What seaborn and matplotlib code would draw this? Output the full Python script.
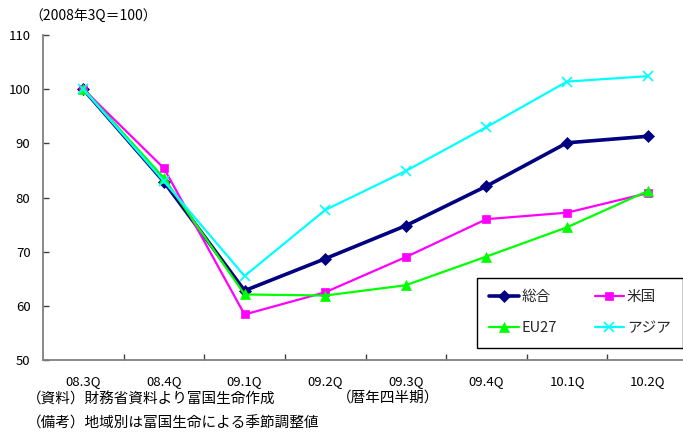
import matplotlib
matplotlib.use("Agg")
import matplotlib.pyplot as plt
import seaborn as sns
import pandas as pd

# Quarterly export volume index by destination (2008 Q3 = 100)
quarters = ["08.3Q", "08.4Q", "09.1Q", "09.2Q", "09.3Q", "09.4Q", "10.1Q", "10.2Q"]
total = [100.0, 82.9, 62.8, 68.7, 74.8, 82.1, 90.1, 91.3]
usa = [100.0, 85.4, 58.4, 62.5, 69.0, 76.0, 77.2, 80.8]
eu27 = [100.0, 83.6, 62.1, 61.9, 63.8, 69.1, 74.5, 81.2]
asia = [100.0, 83.0, 65.5, 77.7, 84.9, 93.0, 101.4, 102.4]

series_names = ["総合", "米国", "EU27", "アジア"]
series_values = [total, usa, eu27, asia]
colors = ["#000080", "#FF00FF", "#00FF00", "#00FFFF"]
markers = ["D", "s", "^", "x"]
marker_sizes = [6, 6, 6.5, 7]
line_widths = [2.6, 1.6, 1.6, 1.6]

y_ticks = [50, 60, 70, 80, 90, 100, 110]

sns.set_theme(style="white")
plt.rcParams["font.family"] = ["Noto Sans CJK JP", "DejaVu Sans"]

W, H = 683, 432
fig = plt.figure(figsize=(W / 100, H / 100), dpi=100)
ax = fig.add_axes([43 / W, (H - 360) / H, (688 - 43) / W, (360 - 35) / H])

df = pd.DataFrame({"quarter": quarters})
for name, vals, c, m, ms, lw in zip(series_names, series_values, colors,
                                    markers, marker_sizes, line_widths):
    df[name] = vals
    sns.lineplot(data=df, x="quarter", y=name, ax=ax, color=c, marker=m,
                 markersize=ms, linewidth=lw, markeredgecolor=c,
                 markeredgewidth=1.2 if m == "x" else 0.5,
                 label=name, sort=False)

ax.set_xlim(-0.5, len(quarters) - 0.5)
ax.set_ylim(50, 110)
ax.set_yticks(y_ticks)
ax.set_yticklabels([str(v) for v in y_ticks])
ax.set_xticks(range(len(quarters)))
ax.set_xticklabels(quarters)
ax.set_xticks([i + 0.5 for i in range(len(quarters) - 1)], minor=True)
ax.set_xlabel("")
ax.set_ylabel("")

for side in ["top", "right"]:
    ax.spines[side].set_visible(False)
for side in ["left", "bottom"]:
    ax.spines[side].set_color("#808080")
    ax.spines[side].set_linewidth(1.3)

ax.tick_params(axis="y", which="major", direction="in", length=4.5, width=1,
               color="#404040", labelsize=9.5, pad=9, left=True)
ax.tick_params(axis="x", which="major", length=0, labelsize=9.5, pad=11)
ax.tick_params(axis="x", which="minor", direction="in", length=4, width=1,
               color="#404040", bottom=True)
for lab in ax.get_xticklabels() + ax.get_yticklabels():
    lab.set_color("black")

# Legend: two columns, boxed, square corners
handles, labels = ax.get_legend_handles_labels()
order = [0, 2, 1, 3]
leg = ax.legend([handles[i] for i in order], [labels[i] for i in order],
                ncol=2, loc="upper left",
                bbox_to_anchor=(477 / W, (H - 278) / H),
                bbox_transform=fig.transFigure,
                frameon=True, fancybox=False, shadow=False, framealpha=1,
                edgecolor="black", prop={"size": 10.5}, numpoints=1,
                handlelength=2.0, handletextpad=0.2, columnspacing=2.6,
                labelspacing=1.15, borderpad=0.85, borderaxespad=0)
leg.get_frame().set_linewidth(1.0)

fig.text(29 / W, 1 - 17 / H, "（2008年3Q＝100）", fontsize=10,
         ha="left", va="center", color="black")
fig.text(388 / W, 1 - 398 / H, "（暦年四半期）", fontsize=10.5,
         ha="center", va="center", color="black")
fig.text(27 / W, 1 - 400 / H, "（資料）財務省資料より富国生命作成", fontsize=10.5,
         ha="left", va="center", color="black")
fig.text(27 / W, 1 - 423 / H, "（備考）地域別は富国生命による季節調整値", fontsize=10.5,
         ha="left", va="center", color="black")

fig.savefig("out.png", dpi=100, facecolor="white")
